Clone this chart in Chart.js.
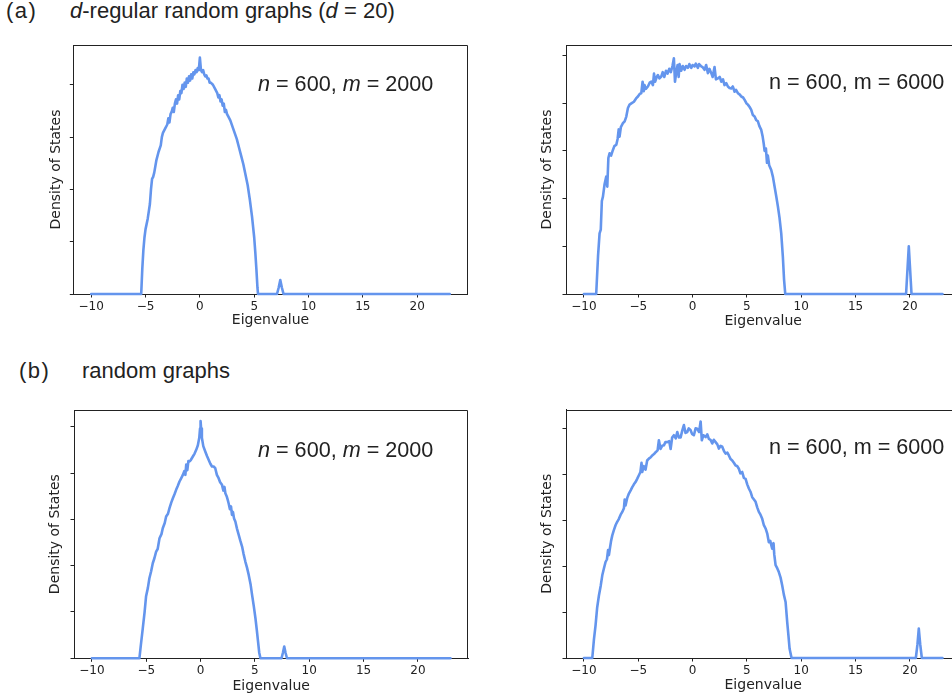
<!DOCTYPE html>
<html>
<head>
<meta charset="utf-8">
<script src="https://cdn.jsdelivr.net/npm/chart.js"></script>
<style>
  html, body { margin: 0; padding: 0; background: #fff; }
  body { width: 952px; height: 700px; overflow: hidden; position: relative; }
  canvas { position: absolute; }
  .lbl { position: absolute; font-family: 'Liberation Sans', Arial, sans-serif; font-size: 21.6px; line-height: 21px; color: #222; white-space: nowrap; }
  .hdr { font-size: 22px; }
  .tag { letter-spacing: 1.5px; font-size: 22px; }
</style>
</head>
<body>
<div class="lbl tag" style="left:6px; top:0px;">(a)</div>
<div class="lbl hdr" style="left:70px; top:0px;"><i>d</i>-regular random graphs (<i>d</i> = 20)</div>
<div class="lbl tag" style="left:19px; top:360px;">(b)</div>
<div class="lbl hdr" style="left:82px; top:360px;">random graphs</div>

<canvas id="cA1" width="480" height="300" style="left:0px; top:30px;"></canvas>
<canvas id="cA2" width="490" height="300" style="left:490px; top:30px;"></canvas>
<canvas id="cB1" width="480" height="320" style="left:0px; top:380px;"></canvas>
<canvas id="cB2" width="490" height="320" style="left:490px; top:380px;"></canvas>

<div class="lbl" style="left:258px; top:73px;"><i>n</i> = 600, <i>m</i> = 2000</div>
<div class="lbl" style="left:769px; top:70.5px;">n = 600, m = 6000</div>
<div class="lbl" style="left:258px; top:439px;"><i>n</i> = 600, <i>m</i> = 2000</div>
<div class="lbl" style="left:769px; top:435.5px;">n = 600, m = 6000</div>

<script>
// ---------- data ----------
const xTicks = [-10, -5, 0, 5, 10, 15, 20];
const yTicksA1 = [0, 0.025, 0.05, 0.075, 0.1];
const yTicksA2 = [0, 0.01, 0.02, 0.03, 0.04, 0.05];
const yTicksB1 = [0, 0.025, 0.05, 0.075, 0.1, 0.125];
const yTicksB2 = [0, 0.01, 0.02, 0.03, 0.04, 0.05];

// (a) d-regular, n=600, m=2000
const aLeftX = [
  -10, -5.4, -5.3, -5.2, -5.1, -5.0, -4.8, -4.6, -4.5, -4.4,
  -4.3, -4.2, -4.0, -3.8, -3.6, -3.5, -3.4, -3.2, -3.0, -2.9,
  -2.8, -2.7, -2.6, -2.5, -2.4, -2.3, -2.2, -2.1, -2.0, -1.9,
  -1.8, -1.7, -1.6, -1.5, -1.4, -1.3, -1.2, -1.1, -1.0, -0.9,
  -0.8, -0.7, -0.6, -0.5, -0.4, -0.3, -0.2, -0.1, 0.0, 0.1,
  0.2, 0.3, 0.4, 0.5, 0.6, 0.7, 0.8, 0.9, 1.0, 1.2,
  1.4, 1.6, 1.7, 1.8, 1.9, 2.0, 2.1, 2.2, 2.3, 2.4,
  2.5, 2.6, 2.8, 3.0, 3.2, 3.4, 3.6, 3.8, 4.0, 4.2,
  4.4, 4.6, 4.8, 5.0, 5.1, 5.2, 5.3, 5.35, 7.1, 7.25,
  7.4, 7.55, 7.7, 23
];
const aLeftY = [
  0, 0, 0.012, 0.021, 0.027, 0.031, 0.036, 0.043, 0.050, 0.055,
  0.056, 0.058, 0.064, 0.068, 0.071, 0.075, 0.077, 0.079, 0.081, 0.084,
  0.082, 0.086, 0.087, 0.089, 0.087, 0.091, 0.093, 0.091, 0.095, 0.093,
  0.097, 0.096, 0.100, 0.098, 0.101, 0.099, 0.103, 0.101, 0.104, 0.102,
  0.105, 0.103, 0.106, 0.105, 0.107, 0.106, 0.108, 0.107, 0.113, 0.107,
  0.106, 0.107, 0.105, 0.104, 0.1045, 0.103, 0.103, 0.101, 0.101, 0.100,
  0.098, 0.096, 0.094, 0.095, 0.092, 0.093, 0.090, 0.091, 0.087, 0.088,
  0.086, 0.085, 0.083, 0.080, 0.077, 0.074, 0.070, 0.066, 0.062, 0.057,
  0.052, 0.045, 0.037, 0.027, 0.020, 0.012, 0.003, 0, 0, 0.003,
  0.0067, 0.003, 0, 0
];

// (a) d-regular, n=600, m=6000
const aRightX = [
  -10, -8.87, -8.7, -8.56, -8.45, -8.35, -8.25, -8.1, -7.95, -7.85,
  -7.75, -7.64, -7.5, -7.33, -7.2, -7.02, -6.9, -6.8, -6.72, -6.6,
  -6.41, -6.25, -6.1, -5.95, -5.8, -5.6, -5.4, -5.2, -5.03, -4.85,
  -4.72, -4.6, -4.5, -4.42, -4.3, -4.11, -3.95, -3.8, -3.65, -3.55,
  -3.45, -3.3, -3.19, -3.05, -2.88, -2.75, -2.6, -2.45, -2.3, -2.15,
  -2.0, -1.85, -1.72, -1.62, -1.5, -1.38, -1.28, -1.2, -1.05, -0.9,
  -0.74, -0.6, -0.43, -0.3, -0.12, 0.0, 0.18, 0.3, 0.49, 0.6,
  0.8, 0.95, 1.1, 1.25, 1.41, 1.55, 1.72, 1.85, 2.02, 2.15,
  2.33, 2.5, 2.64, 2.8, 2.94, 3.1, 3.25, 3.4, 3.56, 3.7,
  3.87, 4.0, 4.17, 4.35, 4.48, 4.65, 4.79, 4.95, 5.09, 5.25,
  5.4, 5.55, 5.71, 5.85, 6.01, 6.15, 6.32, 6.45, 6.55, 6.63,
  6.75, 6.85, 6.93, 7.05, 7.24, 7.4, 7.55, 7.7, 7.85, 8.0,
  8.16, 8.31, 8.42, 8.53, 19.65, 19.8, 19.9, 20.0, 20.15, 23
];
const aRightY = [
  0, 0, 0.008, 0.0127, 0.0135, 0.0195, 0.0204, 0.023, 0.0246, 0.0225,
  0.0285, 0.0295, 0.029, 0.0302, 0.031, 0.0313, 0.0325, 0.0345, 0.033, 0.035,
  0.0358, 0.0362, 0.0372, 0.039, 0.0397, 0.040, 0.0403, 0.041, 0.0414, 0.042,
  0.0421, 0.0445, 0.0425, 0.0438, 0.043, 0.0435, 0.0443, 0.0445, 0.0438, 0.0462,
  0.0445, 0.0455, 0.0459, 0.0452, 0.0456, 0.0465, 0.0455, 0.0468, 0.0462, 0.0472,
  0.0465, 0.0478, 0.0494, 0.0445, 0.0465, 0.048, 0.0455, 0.0482, 0.0468, 0.0478,
  0.047, 0.0478, 0.0474, 0.0482, 0.0474, 0.048, 0.0477, 0.0483, 0.0474, 0.0482,
  0.0477, 0.0475, 0.047, 0.048, 0.0463, 0.0472, 0.0463, 0.0455, 0.0476, 0.045,
  0.0452, 0.0455, 0.0445, 0.045, 0.0438, 0.0442, 0.0435, 0.0432, 0.0431, 0.0435,
  0.0424, 0.0428, 0.0421, 0.0418, 0.0414, 0.0412, 0.0407, 0.040, 0.0397, 0.0392,
  0.0386, 0.0375, 0.0372, 0.0365, 0.0362, 0.0352, 0.0344, 0.033, 0.0315, 0.030,
  0.0305, 0.0275, 0.029, 0.027, 0.026, 0.0245, 0.0225, 0.0205, 0.0184, 0.016,
  0.0127, 0.0078, 0.003, 0, 0, 0.006, 0.010, 0.006, 0, 0
];

// (b) random graphs, n=600, m=2000
const bLeftX = [
  -10, -5.63, -5.5, -5.32, -5.15, -5.02, -4.85, -4.71, -4.55, -4.4,
  -4.25, -4.09, -3.95, -3.78, -3.6, -3.48, -3.3, -3.17, -3.0, -2.86,
  -2.7, -2.55, -2.4, -2.25, -2.1, -1.94, -1.8, -1.63, -1.5, -1.4,
  -1.32, -1.22, -1.12, -1.02, -0.9, -0.71, -0.55, -0.4, -0.25, -0.12,
  -0.05, 0.0, 0.05, 0.12, 0.25, 0.43, 0.6, 0.74, 0.9, 1.05,
  1.2, 1.35, 1.5, 1.66, 1.8, 1.97, 2.1, 2.2, 2.28, 2.4,
  2.5, 2.58, 2.7, 2.8, 2.89, 2.98, 3.08, 3.2, 3.35, 3.51,
  3.65, 3.82, 3.95, 4.12, 4.28, 4.43, 4.6, 4.74, 4.9, 5.05,
  5.18, 5.29, 5.4, 5.51, 7.45, 7.58, 7.7, 7.82, 7.95, 23
];
const bLeftY = [
  0, 0, 0.007, 0.0162, 0.025, 0.0333, 0.038, 0.0432, 0.047, 0.0513,
  0.054, 0.0576, 0.059, 0.0648, 0.067, 0.0702, 0.073, 0.0765, 0.078, 0.081,
  0.084, 0.0864, 0.0885, 0.0909, 0.093, 0.0954, 0.097, 0.099, 0.101, 0.099,
  0.1045, 0.1015, 0.1065, 0.1062, 0.107, 0.1089, 0.1105, 0.1125, 0.115, 0.119,
  0.124, 0.128, 0.124, 0.119, 0.1145, 0.1116, 0.109, 0.1071, 0.105, 0.1035,
  0.1035, 0.1026, 0.099, 0.0972, 0.095, 0.0936, 0.0905, 0.0925, 0.0891, 0.0875,
  0.0855, 0.0837, 0.0805, 0.082, 0.0774, 0.079, 0.0755, 0.0738, 0.070, 0.0666,
  0.0636, 0.0603, 0.0565, 0.0522, 0.0488, 0.045, 0.040, 0.0342, 0.028, 0.0216,
  0.015, 0.009, 0.003, 0, 0, 0.003, 0.0063, 0.003, 0, 0
];

// (b) random graphs, n=600, m=6000
const bRightX = [
  -10, -9.23, -9.08, -8.93, -8.78, -8.62, -8.45, -8.31, -8.15, -8.01,
  -7.88, -7.78, -7.7, -7.6, -7.5, -7.39, -7.25, -7.09, -6.95, -6.78,
  -6.62, -6.47, -6.32, -6.25, -6.17, -6.02, -5.86, -5.7, -5.55, -5.4,
  -5.25, -5.1, -4.94, -4.8, -4.7, -4.63, -4.5, -4.33, -4.18, -4.02,
  -3.85, -3.71, -3.55, -3.4, -3.22, -3.1, -2.95, -2.8, -2.64, -2.5,
  -2.33, -2.15, -2.02, -1.88, -1.72, -1.55, -1.41, -1.25, -1.1, -0.95,
  -0.8, -0.65, -0.49, -0.35, -0.18, -0.05, 0.12, 0.28, 0.43, 0.6,
  0.74, 0.85, 1.0, 1.2, 1.35, 1.5, 1.65, 1.81, 1.95, 2.12,
  2.28, 2.42, 2.58, 2.73, 2.9, 3.04, 3.2, 3.34, 3.5, 3.65,
  3.8, 3.96, 4.1, 4.26, 4.4, 4.57, 4.72, 4.88, 5.03, 5.18,
  5.33, 5.49, 5.65, 5.8, 5.95, 6.1, 6.25, 6.41, 6.55, 6.72,
  6.88, 7.02, 7.15, 7.25, 7.33, 7.45, 7.52, 7.64, 7.8, 7.94,
  8.1, 8.25, 8.4, 8.56, 8.71, 8.82, 8.93, 9.11, 20.55, 20.7,
  20.82, 20.95, 21.1, 23
];
const bRightY = [
  0, 0, 0.004, 0.0071, 0.011, 0.0136, 0.0158, 0.018, 0.0196, 0.0209,
  0.0215, 0.0235, 0.0224, 0.024, 0.0255, 0.0267, 0.0278, 0.0289, 0.0296, 0.0303,
  0.0312, 0.0318, 0.0326, 0.0345, 0.0332, 0.0348, 0.0358, 0.0365, 0.0372, 0.0378,
  0.0383, 0.039, 0.0398, 0.0405, 0.0425, 0.0405, 0.0418, 0.041, 0.043, 0.0434,
  0.0437, 0.0441, 0.0444, 0.0448, 0.0452, 0.0474, 0.0455, 0.0462, 0.0463, 0.047,
  0.047, 0.0472, 0.0455, 0.048, 0.0485, 0.0478, 0.0492, 0.048, 0.048, 0.0495,
  0.0507, 0.049, 0.0492, 0.050, 0.0496, 0.0488, 0.0485, 0.050, 0.0499, 0.0492,
  0.0515, 0.0474, 0.0485, 0.0481, 0.0487, 0.0477, 0.0475, 0.0467, 0.0475, 0.047,
  0.0465, 0.0456, 0.0462, 0.046, 0.045, 0.0445, 0.0447, 0.0441, 0.0433, 0.043,
  0.0425, 0.0419, 0.0418, 0.0412, 0.0402, 0.0405, 0.0392, 0.039, 0.0378, 0.0369,
  0.0362, 0.035, 0.0345, 0.034, 0.0328, 0.0318, 0.0312, 0.0303, 0.029, 0.0282,
  0.027, 0.0252, 0.0255, 0.0245, 0.0238, 0.025, 0.0225, 0.0202, 0.0195, 0.0187,
  0.0175, 0.0158, 0.0138, 0.0122, 0.0078, 0.005, 0.002, 0, 0, 0.003,
  0.0064, 0.003, 0, 0
];

// ---------- drawing ----------
const INK = '#222';
const LINE = '#6495ED';

const spinePlugin = {
  id: 'spines',
  beforeDatasetsDraw(chart) {
    const a = chart.chartArea, c = chart.ctx;
    const l = Math.round(a.left) + 0.5, r = Math.round(a.right) - 0.5;
    const t = Math.round(a.top) + 0.5, b = Math.round(a.bottom) + 0.5;
    c.save();
    c.strokeStyle = INK;
    c.lineWidth = 1;
    c.beginPath();
    c.moveTo(l, t); c.lineTo(r, t); c.lineTo(r, b);
    c.stroke();
    c.restore();
  }
};

function fmt(v) { return v < 0 ? '\u2212' + Math.abs(v) : String(v); }

function makeChart(id, xs, ys, yMax, yTicks, g) {
  return new Chart(document.getElementById(id), {
    type: 'scatter',
    data: {
      datasets: [{
        data: xs.map((x, i) => ({ x: x, y: ys[i] })),
        showLine: true,
        borderColor: LINE,
        backgroundColor: LINE,
        borderWidth: 2.6,
        pointRadius: 0,
        tension: 0,
        clip: 4,
        borderJoinStyle: 'round',
        borderCapStyle: 'round'
      }]
    },
    options: {
      responsive: false,
      animation: false,
      devicePixelRatio: 1,
      events: [],
      layout: { padding: g.pad },
      plugins: { legend: { display: false }, tooltip: { enabled: false } },
      scales: {
        x: {
          type: 'linear', position: 'bottom', min: -11.65, max: 24.65,
          afterBuildTicks: s => { s.ticks = xTicks.map(v => ({ value: v })); },
          afterFit: s => { s.height = g.xh; },
          grid: { display: true, drawOnChartArea: false, drawTicks: true, tickLength: 3.5, tickColor: INK, tickWidth: 1 },
          border: { display: true, color: INK, width: 1 },
          ticks: { padding: 1.7, color: INK, autoSkip: false, maxRotation: 0,
                   font: { family: 'DejaVu Sans', size: 12 }, callback: v => fmt(v) },
          title: { display: true, text: 'Eigenvalue', color: INK,
                   font: { family: 'DejaVu Sans', size: 14 }, padding: { top: 0, bottom: g.xtp } }
        },
        y: {
          type: 'linear', position: 'left', min: 0, max: yMax,
          afterBuildTicks: s => { s.ticks = yTicks.map(v => ({ value: v })); },
          afterFit: s => { s.width = g.yw; },
          grid: { display: true, drawOnChartArea: false, drawTicks: true, tickLength: 3.5, tickColor: INK, tickWidth: 1 },
          border: { display: true, color: INK, width: 1 },
          ticks: { padding: 0, callback: () => '', font: { family: 'DejaVu Sans', size: 12 } },
          title: { display: true, text: 'Density of States', color: INK,
                   font: { family: 'DejaVu Sans', size: 14 }, padding: { top: g.ytp, bottom: 0 } }
        }
      }
    },
    plugins: [spinePlugin]
  });
}

makeChart('cA1', aLeftX, aLeftY, 0.119, yTicksA1,
  { pad: { left: 0, top: 15, right: 12.3, bottom: 0 }, xh: 36, yw: 73.3, xtp: 1, ytp: 47.9 });
makeChart('cA2', aRightX, aRightY, 0.0522, yTicksA2,
  { pad: { left: 0, top: 15, right: 19.6, bottom: 0 }, xh: 36, yw: 76, xtp: 0.5, ytp: 48.7 });
makeChart('cB1', bLeftX, bLeftY, 0.134, yTicksB1,
  { pad: { left: 0, top: 30, right: 11.6, bottom: 0 }, xh: 41.7, yw: 74, xtp: 5.5, ytp: 47.1 });
makeChart('cB2', bRightX, bRightY, 0.0541, yTicksB2,
  { pad: { left: 0, top: 29.5, right: 19.6, bottom: 0 }, xh: 42, yw: 76, xtp: 6.3, ytp: 49.2 });
</script>
</body>
</html>
